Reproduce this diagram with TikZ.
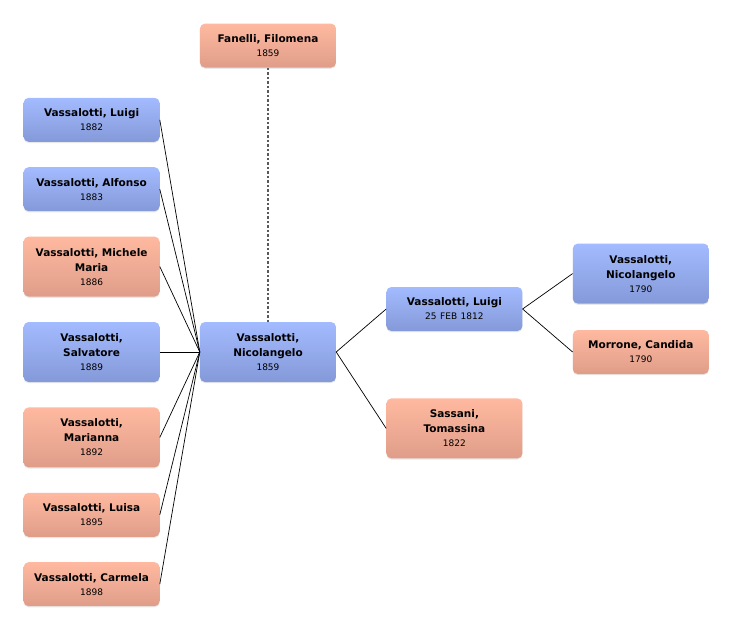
\documentclass[tikz,border=0pt]{standalone}
\usepackage{fontspec}
\setmainfont{DejaVu Sans}
\usepackage{tikz}
\usetikzlibrary{positioning}
\usetikzlibrary{shadows}

\definecolor{maletop}{HTML}{A3BBFF}
\definecolor{malebottom}{HTML}{8499D8}
\definecolor{femaletop}{HTML}{FFB9A0}
\definecolor{femalebottom}{HTML}{DF9D89}

\begin{document}
\begin{tikzpicture}[rounded corners=5pt,inner sep=2pt,node distance=25pt,
		person/.style={minimum width=136pt,minimum height=44pt,text width=128pt,align=center,
			font=\fontsize{10.5}{15}\selectfont\bfseries,
			drop shadow={opacity=0.18,shadow xshift=0pt,shadow yshift=-1.2pt}},
		male/.style={person,top color=maletop,bottom color=malebottom},
		female/.style={person,top color=femaletop,bottom color=femalebottom},
		tall/.style={minimum height=60pt}]
		\useasboundingbox (-268pt,-278pt) rectangle (464pt,352pt);
		\node [male,tall](nicolangelo) {Vassalotti,\\Nicolangelo\\[-1pt]{\mdseries\small 1859}};
		\node [female,above=254pt of nicolangelo](filomena) {Fanelli, Filomena\\[-1pt]{\mdseries\small 1859}};
		\node [male,tall,left=40pt of nicolangelo](salvatore) {Vassalotti,\\Salvatore\\[-1pt]{\mdseries\small 1889}};
		\node [female,tall,above=of salvatore](michele) {Vassalotti, Michele\\Maria\\[-1pt]{\mdseries\small 1886}};
		\node [male,above=of michele](alfonso) {Vassalotti, Alfonso\\[-1pt]{\mdseries\small 1883}};
		\node [male,above=of alfonso](luigi) {Vassalotti, Luigi\\[-1pt]{\mdseries\small 1882}};
		\node [female,tall,below=of salvatore](marianna) {Vassalotti,\\Marianna\\[-1pt]{\mdseries\small 1892}};
		\node [female,below=of marianna](luisa) {Vassalotti, Luisa\\[-1pt]{\mdseries\small 1895}};
		\node [female,below=of luisa](carmela) {Vassalotti, Carmela\\[-1pt]{\mdseries\small 1898}};
		\node [male,right=50pt of nicolangelo,yshift=43pt](luigifather) {Vassalotti, Luigi\\[-1pt]{\mdseries\small 25 FEB 1812}};
		\node [female,tall,below=67pt of luigifather](tomassina) {Sassani,\\Tomassina\\[-1pt]{\mdseries\small 1822}};
		\node [female,right=50pt of luigifather,yshift=-43pt](candida) {Morrone, Candida\\[-1pt]{\mdseries\small 1790}};
		\node [male,tall,above=26pt of candida](grandfather) {Vassalotti,\\Nicolangelo\\[-1pt]{\mdseries\small 1790}};
		\draw [gray!70!black,line width=1.2pt,dash pattern=on 2.5pt off 2pt] (filomena) -- (nicolangelo);
		\foreach \n in {luigi,alfonso,michele,salvatore,marianna,luisa,carmela}
			\draw [line width=0.7pt] (\n.east) -- (nicolangelo.west);
		\foreach \n in {luigifather,tomassina}
			\draw [line width=0.7pt] (nicolangelo.east) -- (\n.west);
		\foreach \n in {grandfather,candida}
			\draw [line width=0.7pt] (luigifather.east) -- (\n.west);
	\end{tikzpicture}
\end{document}
